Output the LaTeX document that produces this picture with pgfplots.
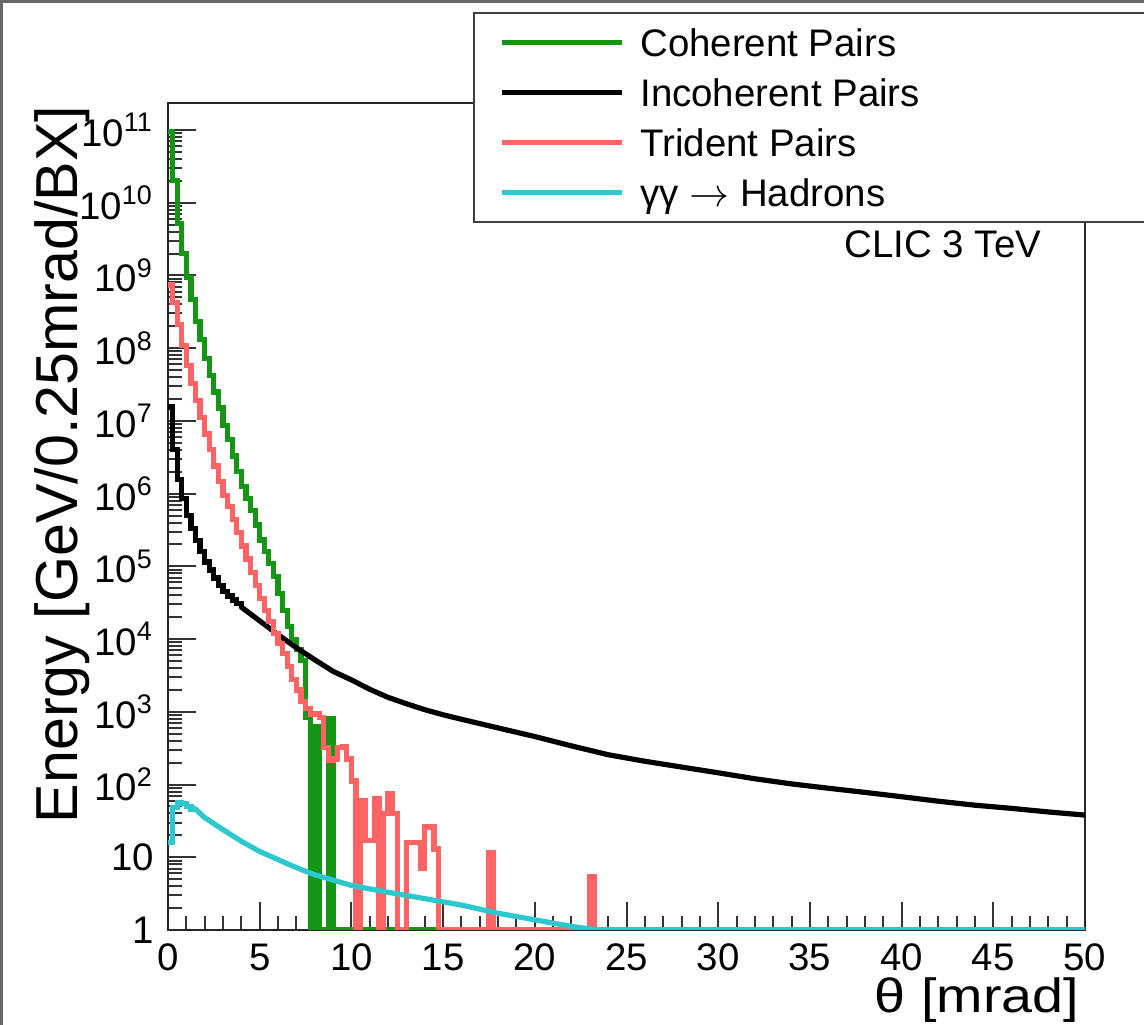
\documentclass[border=0pt]{standalone}
\usepackage{fontspec}
\setmainfont{Liberation Sans}
\newfontfamily\widesans{Liberation Sans}[FakeStretch=1.16]
\usepackage{pgfplots}
\pgfplotsset{compat=1.18}
\definecolor{cgreen}{RGB}{20,150,20}
\definecolor{cred}{RGB}{255,100,100}
\definecolor{ccyan}{RGB}{45,200,205}
\begin{document}
\begin{tikzpicture}
\path[use as bounding box] (-42pt,-23.75pt) rectangle (244pt,232.5pt);
\begin{axis}[
  at={(0pt,0pt)}, anchor=south west,
  scale only axis, width=229.25pt, height=206.75pt,
  xmin=0, xmax=50, ymode=log, ymin=1, ymax=2.35e11,
  clip mode=individual,
  axis line style={black!85, line width=0.6pt},
  xtick={0,5,...,50}, xticklabels={0,5,10,15,20,25,30,35,40,45,50},
  minor x tick num=4,
  ytick={1,10,100,1000,1e4,1e5,1e6,1e7,1e8,1e9,1e10,1e11},
  yticklabels={1,10,10\textsuperscript{2},10\textsuperscript{3},10\textsuperscript{4},10\textsuperscript{5},10\textsuperscript{6},10\textsuperscript{7},10\textsuperscript{8},10\textsuperscript{9},10\textsuperscript{10},10\textsuperscript{11}},
  minor ytick={2,3,4,5,6,7,8,9,20,30,40,50,60,70,80,90,200,300,400,500,600,700,800,900,2e3,3e3,4e3,5e3,6e3,7e3,8e3,9e3,2e4,3e4,4e4,5e4,6e4,7e4,8e4,9e4,2e5,3e5,4e5,5e5,6e5,7e5,8e5,9e5,2e6,3e6,4e6,5e6,6e6,7e6,8e6,9e6,2e7,3e7,4e7,5e7,6e7,7e7,8e7,9e7,2e8,3e8,4e8,5e8,6e8,7e8,8e8,9e8,2e9,3e9,4e9,5e9,6e9,7e9,8e9,9e9,2e10,3e10,4e10,5e10,6e10,7e10,8e10,9e10},
  xtick pos=bottom, ytick pos=left, tick align=inside,
  major tick length=7pt, minor tick length=3.5pt,
  tick style={black!80, line width=0.5pt},
  ticklabel style={font=\fontsize{9.6}{11}\selectfont},
  every axis plot/.append style={line width=1.3pt},
  legend cell align=left,
  legend image code/.code={\draw[#1, line width=1.3pt] (0pt,0pt) -- (30pt,0pt);},
  legend style={
    at={(axis description cs:0.3326,1.1102)}, anchor=north west,
    draw=black!75, line width=0.6pt, fill=white,
    font=\fontsize{9.6}{11}\selectfont,
    inner xsep=6.25pt, inner ysep=3.9pt,
    row sep=5.6pt, column sep=4pt,
    nodes={inner sep=0pt, text height=6.9pt, text depth=0pt},
  },
]
% Coherent pairs
\addplot[cgreen, const plot] coordinates {
(0,9.5e10) (0.25,2.0e10) (0.5,5.2e9) (0.75,2.0e9) (1,9.3e8) (1.25,4.7e8) (1.5,2.3e8) (1.75,1.3e8)
(2,7.2e7) (2.25,4.2e7) (2.5,2.5e7) (2.75,1.5e7) (3,8.7e6) (3.25,5.5e6) (3.5,3.3e6) (3.75,2.0e6)
(4,1.26e6) (4.25,8.5e5) (4.5,5.8e5) (4.75,3.7e5) (5,2.3e5) (5.25,1.6e5) (5.5,1.1e5) (5.75,7.2e4)
(6,4.2e4) (6.25,2.5e4) (6.5,1.5e4) (6.75,9.8e3) (7,7.1e3) (7.25,5.1e3) (7.5,850) (7.75,1)
(8,630) (8.25,1) (8.5,1) (8.75,800) (9,1) (50,1)};
\addlegendentry{\makebox[140pt][l]{Coherent Pairs}}
% Incoherent pairs
\addplot[black, const plot] coordinates {
(0,1.55e7) (0.25,4.0e6) (0.5,1.55e6) (0.75,8.5e5) (1,5.0e5) (1.25,3.3e5) (1.5,2.24e5) (1.75,1.58e5)
(2,1.15e5) (2.25,8.9e4) (2.5,6.9e4) (2.75,5.5e4) (3,4.5e4) (3.25,3.9e4) (3.5,3.45e4) (3.75,3.05e4) (4,2.75e4)};
\addlegendentry{Incoherent Pairs}
\addplot[black, sharp plot, forget plot, line cap=round, line join=round] coordinates {
(4,2.75e4) (5,1.78e4) (6,1.15e4) (7,7.6e3) (8,5.2e3) (9,3.6e3) (10,2.75e3) (11,2.04e3)
(12,1.58e3) (13,1.29e3) (14,1.07e3) (15,910) (16,790) (18,600) (20,457) (22,340) (24,257) (26,209)
(28,174) (30,145) (32,120) (34,102) (36,89) (38,78) (40,68) (42,59) (44,52) (46,47) (48,42) (50,38)};
% Trident pairs
\addplot[cred, const plot] coordinates {
(0,7.4e8) (0.25,4.2e8) (0.5,2.1e8) (0.75,1.1e8) (1,5.8e7) (1.25,3.3e7) (1.5,1.9e7) (1.75,1.12e7)
(2,6.6e6) (2.25,4.0e6) (2.5,2.4e6) (2.75,1.45e6) (3,9.5e5) (3.25,6.6e5) (3.5,4.4e5) (3.75,2.9e5)
(4,1.9e5) (4.25,1.26e5) (4.5,8.3e4) (4.75,5.5e4) (5,3.6e4) (5.25,2.5e4) (5.5,1.74e4) (5.75,1.2e4)
(6,8.7e3) (6.25,6.3e3) (6.5,4.2e3) (6.75,2.8e3) (7,2.0e3) (7.25,1.38e3) (7.5,1.12e3) (7.75,930)
(8,930) (8.25,830) (8.5,320) (8.75,215) (9,225) (9.25,320) (9.5,330) (9.75,225)
(10,112) (10.25,1) (10.5,60) (10.75,17) (11,17) (11.25,65) (11.5,1) (11.75,40)
(12,75) (12.25,40) (12.5,1) (13,16) (13.25,16) (13.5,16) (13.75,7) (14,26) (14.25,26) (14.5,13)
(14.75,1) (17.5,11.5) (17.75,1) (23,5.5) (23.25,1) (50,1)};
\addlegendentry{Trident Pairs}
% gamma gamma -> hadrons
\addplot[ccyan, const plot] coordinates {
(0,16) (0.25,48) (0.5,57) (0.75,55) (1,50) (1.25,46) (1.5,46)};
\addlegendentry{γγ $\rightarrow$ Hadrons}
\addplot[ccyan, sharp plot, forget plot, line cap=round, line join=round] coordinates {
(1.5,46) (2,35) (3,24) (4,16.6) (5,12) (6,9.3) (7,7.2) (8,5.75) (10,4.1) (12,3.3) (14,2.7)
(16,2.2) (18,1.7) (20,1.38) (22,1.12) (23.5,1) (50,1)};
\node[anchor=east, inner sep=0pt, font=\fontsize{9.6}{11}\selectfont] at (rel axis cs:0.953,0.8295) {CLIC 3 TeV};
\node[rotate=90, anchor=east, inner sep=0pt, font=\fontsize{14.8}{18}\selectfont] at (rel axis cs:-0.1156,0.9976) {Energy [GeV/0.25mrad/BX]};
\node[anchor=east, inner sep=0pt, font=\widesans\fontsize{12}{14}\selectfont] at (rel axis cs:0.9945,-0.0845) {θ [mrad]};
\end{axis}
\draw[black!60, line width=0.8pt] (-41.6pt,-23.75pt) -- (-41.6pt,232.1pt) -- (244pt,232.1pt);
\end{tikzpicture}
\end{document}
